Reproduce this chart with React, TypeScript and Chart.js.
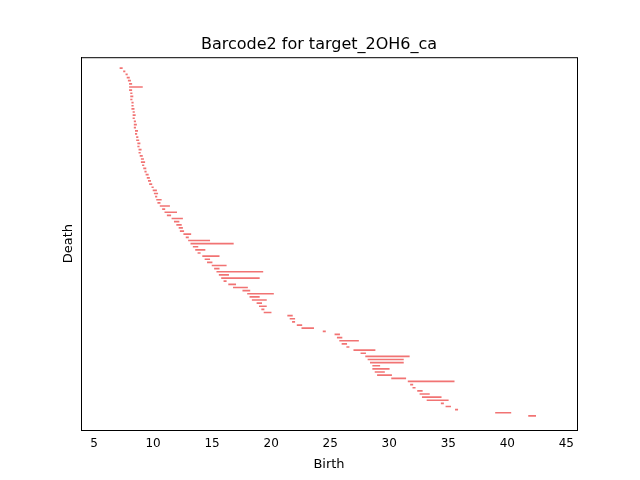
import React, { useEffect, useRef } from "react";
import { Chart, registerables } from "chart.js";
Chart.register(...registerables);

const births = [NaN,NaN,NaN,7.2,7.5,7.7,7.8,7.9,8.0,8.0,8.0,8.1,8.1,8.1,8.2,8.2,8.2,8.3,8.3,8.3,8.4,8.4,8.4,8.5,8.5,8.6,8.6,8.7,8.7,8.8,8.8,8.9,9.0,9.0,9.1,9.2,9.3,9.4,9.5,9.6,9.7,9.9,10.0,10.1,10.2,10.3,10.4,10.6,10.8,11.0,11.2,11.6,11.8,12.0,12.2,12.3,12.6,12.8,13.0,13.2,13.4,13.6,13.8,14.2,14.4,14.6,15.0,15.2,15.4,15.6,15.8,16.0,16.4,16.8,17.6,18.0,18.2,18.4,18.8,19.0,19.2,19.4,21.4,21.6,21.8,22.2,22.6,24.4,25.4,25.6,25.8,26.0,26.4,27.0,27.6,28.0,28.2,28.4,28.6,28.6,28.8,29.0,30.2,31.6,31.8,32.0,32.4,32.6,32.8,33.2,34.4,34.8,35.6,39.0,41.8,NaN,NaN,NaN,NaN];
const deaths = [NaN,NaN,NaN,7.4,7.6,7.8,8.0,8.1,8.2,9.1,8.2,8.2,8.3,8.2,8.3,8.3,8.4,8.4,8.5,8.4,8.5,8.6,8.5,8.7,8.6,8.7,8.8,8.9,8.8,9.0,8.9,9.1,9.2,9.3,9.2,9.4,9.4,9.6,9.7,9.8,9.9,10.0,10.3,10.4,10.3,10.7,10.6,11.4,11.0,12.0,11.5,12.5,12.2,12.4,12.5,12.6,13.2,13.0,14.8,16.8,13.8,14.4,14.0,15.6,14.8,15.0,16.2,15.6,19.3,16.4,19.0,16.2,17.0,18.0,18.2,20.2,19.0,19.6,19.2,19.6,19.4,20.0,21.8,22.0,22.0,22.6,23.6,24.6,25.8,26.0,27.4,26.4,26.6,28.8,28.0,31.7,31.2,31.2,29.2,30.0,29.6,30.2,31.4,35.5,32.0,32.2,32.8,33.4,34.4,35.0,34.6,35.2,35.8,40.3,42.4,NaN,NaN,NaN,NaN];
const xTicks = [5,10,15,20,25,30,35,40,45];

const frame = {
  id: "frame",
  afterDraw(c: any) {
    const { ctx, chartArea: a } = c;
    ctx.save();
    ctx.strokeStyle = "#000";
    ctx.lineWidth = 1;
    ctx.strokeRect(a.left + 0.5, a.top + 0.5, a.right - a.left, a.bottom - a.top);
    ctx.restore();
  },
};

export default function App() {
  const ref = useRef<HTMLCanvasElement>(null);
  useEffect(() => {
    document.body.style.margin = "0";
    const chart = new Chart(ref.current!, {
      type: "bar",
      data: {
        labels: births.map((_, i) => String(i)),
        datasets: [{
          data: births.map((b, i) => (isNaN(b) ? null : [b, deaths[i]])) as any,
          backgroundColor: "rgba(240,100,100,0.9)",
          barThickness: 1,
          minBarLength: 1.5,
        }],
      },
      options: {
        indexAxis: "y",
        animation: false,
        responsive: false,
        layout: { padding: { top: 0, right: 63, left: 61, bottom: 0 } },
        plugins: {
          legend: { display: false },
          tooltip: { enabled: false },
          title: {
            display: true, text: "Barcode2 for target_2OH6_ca", color: "#000",
            font: { family: "DejaVu Sans", size: 16, weight: "normal" },
            padding: { top: 35, bottom: 3 },
          },
        },
        scales: {
          x: {
            type: "linear", min: 3.9, max: 45.9,
            afterBuildTicks: (s: any) => { s.ticks = xTicks.map((v) => ({ value: v })); },
            grid: { display: false, drawTicks: true, tickLength: 4, color: "#000" } as any,
            border: { display: true, color: "#000" },
            ticks: { color: "#000", font: { family: "DejaVu Sans", size: 12 } },
            title: { display: true, text: "Birth", color: "#000", font: { family: "DejaVu Sans", size: 13 }, padding: { top: 2, bottom: 8 } },
          },
          y: {
            offset: true,
            grid: { display: false },
            border: { display: true, color: "#000" },
            ticks: { display: false },
            title: { display: true, text: "Death", color: "#000", font: { family: "DejaVu Sans", size: 13 }, padding: { top: 0, bottom: 0 } },
            afterFit: (s: any) => { s.width = 20; },
          },
        },
      },
      plugins: [frame],
    });
    return () => chart.destroy();
  }, []);
  return <canvas ref={ref} width={640} height={480} />;
}
